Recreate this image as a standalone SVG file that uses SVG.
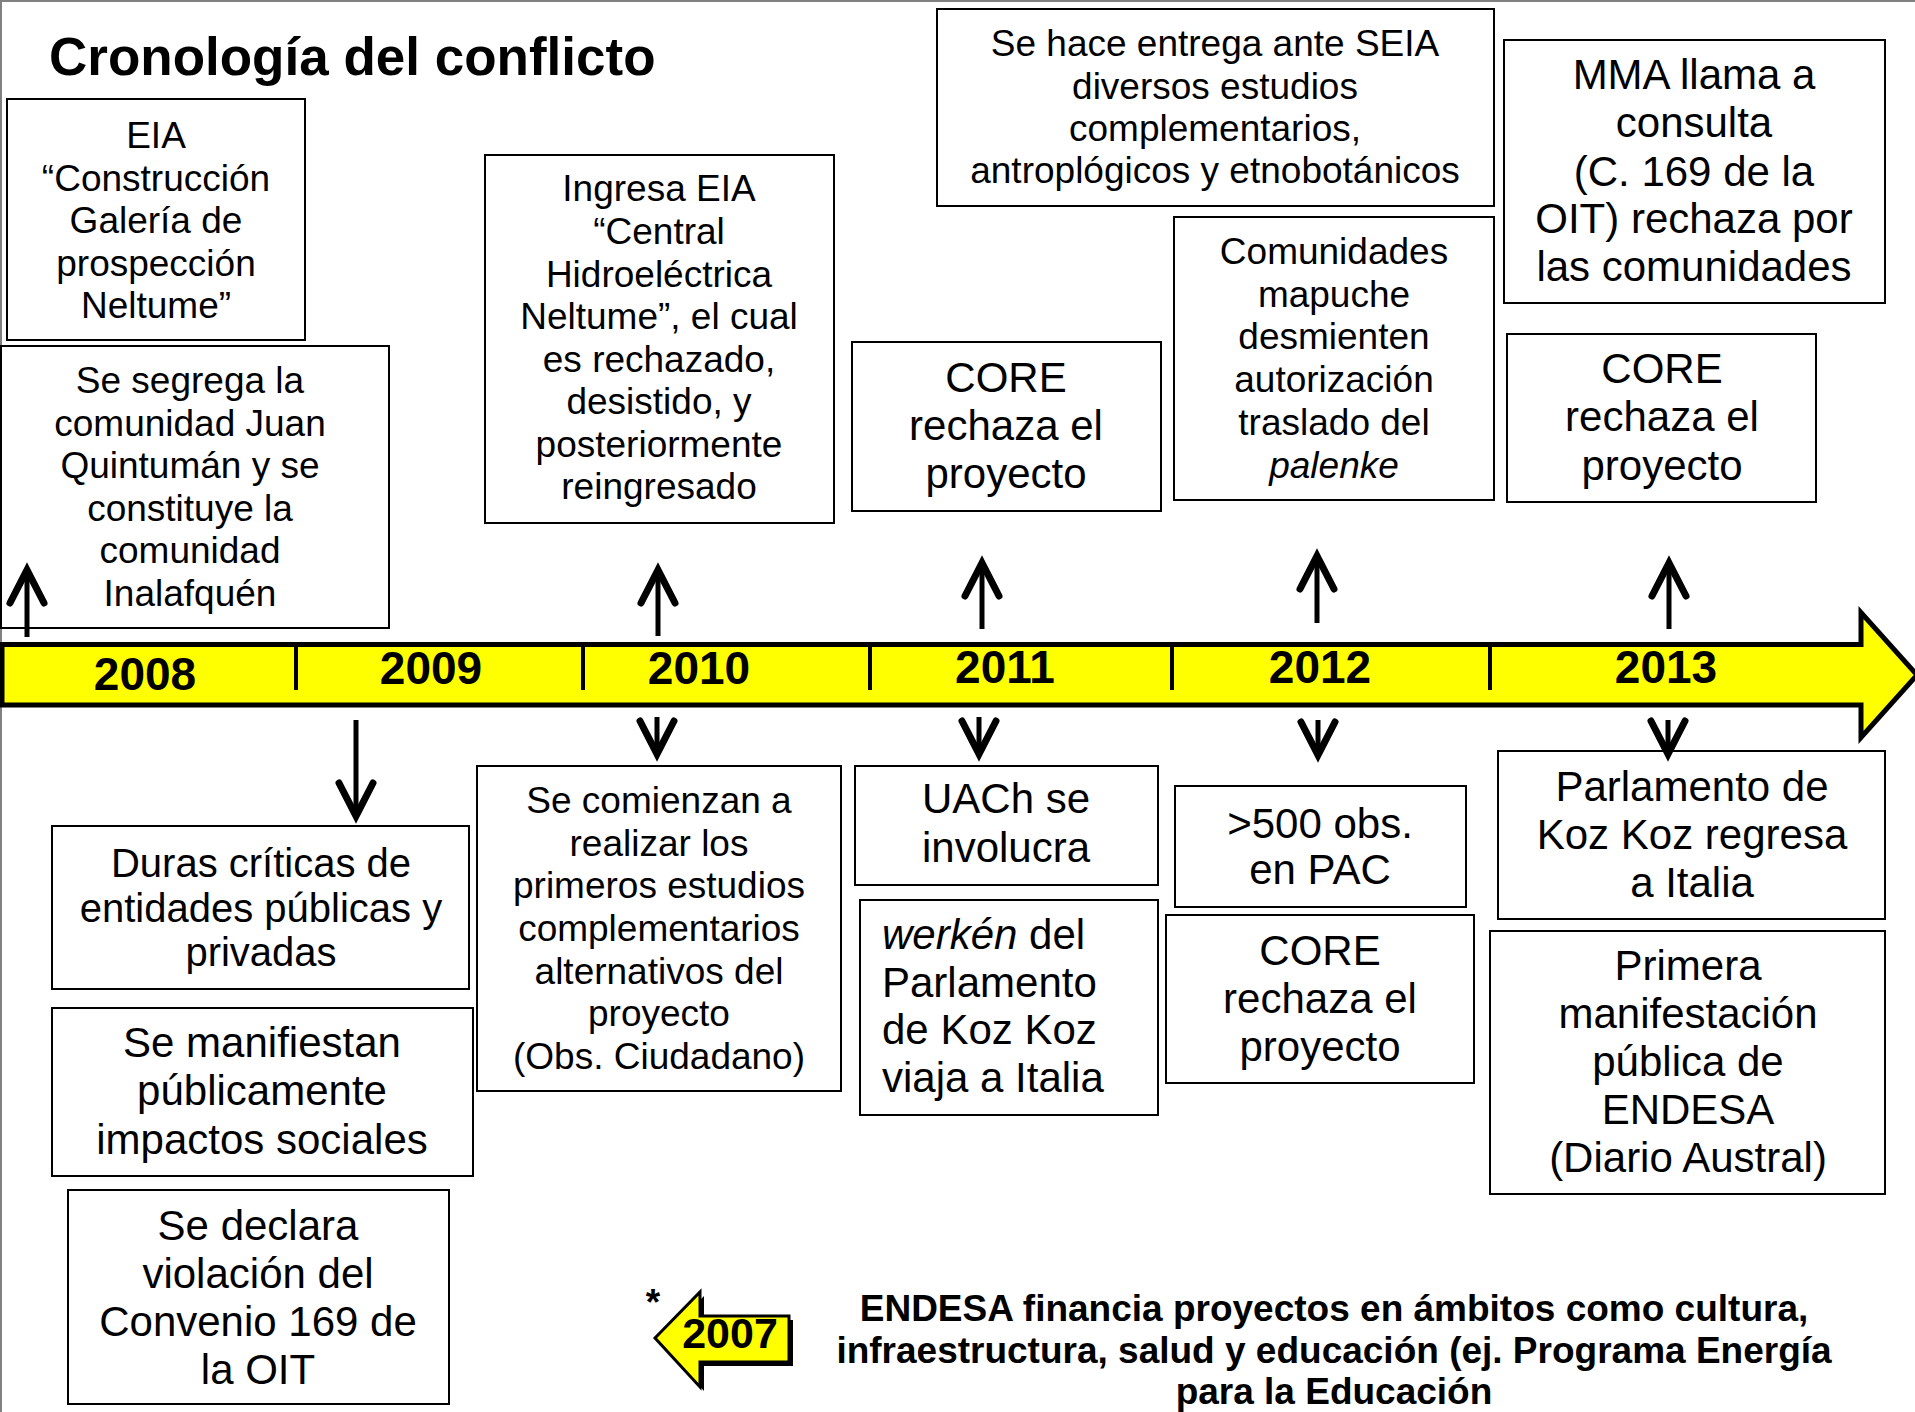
<svg xmlns="http://www.w3.org/2000/svg" width="1915" height="1412" viewBox="0 0 1915 1412">
<style>
.box{fill:#fff;stroke:#000;stroke-width:2}
.t{font-family:"Liberation Sans",Arial,sans-serif;fill:#000;text-anchor:middle}
.s37{font-size:37px}
.s40{font-size:40px}
.s42{font-size:42px}
.b{font-weight:bold}
.shaft{stroke:#000;stroke-width:5;fill:none}
.head{stroke:#000;stroke-width:7;fill:none;stroke-linecap:round;stroke-linejoin:miter;stroke-miterlimit:10}
.tick{stroke:#000;stroke-width:4}
</style>
<rect width="1915" height="1412" fill="#fff"/>
<path d="M1,1412 V1 H1915" fill="none" stroke="#808080" stroke-width="2"/>

<text class="t b" x="49" y="75" font-size="53" style="text-anchor:start">Cronología del conflicto</text>

<g id="timeline">
<path d="M2,644.5 H1861 V612.5 L1917,675 L1861,737.5 V705 H2 Z" fill="#ffff00" stroke="#000" stroke-width="5"/>
<line class="tick" x1="296" y1="646" x2="296" y2="690"/>
<line class="tick" x1="583" y1="646" x2="583" y2="690"/>
<line class="tick" x1="870" y1="646" x2="870" y2="690"/>
<line class="tick" x1="1172" y1="646" x2="1172" y2="690"/>
<line class="tick" x1="1490" y1="646" x2="1490" y2="690"/>
<g class="t b" font-size="46">
<text x="145" y="690">2008</text>
<text x="431" y="684">2009</text>
<text x="699" y="684">2010</text>
<text x="1005" y="683">2011</text>
<text x="1320" y="683">2012</text>
<text x="1666" y="683">2013</text>
</g>
</g>

<g id="n-eia">
<rect class="box" x="7" y="99" width="298" height="241"/>
<text class="t s37"><tspan x="156" y="148">EIA</tspan><tspan x="156" y="191">“Construcción</tspan><tspan x="156" y="233">Galería de</tspan><tspan x="156" y="276">prospección</tspan><tspan x="156" y="318">Neltume”</tspan></text>
</g>

<g id="n-segrega">
<rect class="box" x="1" y="346" width="388" height="282"/>
<text class="t s37"><tspan x="190" y="393">Se segrega la</tspan><tspan x="190" y="436">comunidad Juan</tspan><tspan x="190" y="478">Quintumán y se</tspan><tspan x="190" y="521">constituye la</tspan><tspan x="190" y="563">comunidad</tspan><tspan x="190" y="606">Inalafquén</tspan></text>
</g>

<g id="n-ingresa">
<rect class="box" x="485" y="155" width="349" height="368"/>
<text class="t s37"><tspan x="659" y="201">Ingresa EIA</tspan><tspan x="659" y="244">“Central</tspan><tspan x="659" y="287">Hidroeléctrica</tspan><tspan x="659" y="329">Neltume”, el cual</tspan><tspan x="659" y="372">es rechazado,</tspan><tspan x="659" y="414">desistido, y</tspan><tspan x="659" y="457">posteriormente</tspan><tspan x="659" y="499">reingresado</tspan></text>
</g>

<g id="n-comienzan">
<rect class="box" x="477" y="766" width="364" height="325"/>
<text class="t s37"><tspan x="659" y="813">Se comienzan a</tspan><tspan x="659" y="856">realizar los</tspan><tspan x="659" y="898">primeros estudios</tspan><tspan x="659" y="941">complementarios</tspan><tspan x="659" y="984">alternativos del</tspan><tspan x="659" y="1026">proyecto</tspan><tspan x="659" y="1069">(Obs. Ciudadano)</tspan></text>
</g>

<g id="n-uach">
<rect class="box" x="855" y="766" width="303" height="119"/>
<text class="t s42"><tspan x="1006" y="813">UACh se</tspan><tspan x="1006" y="862">involucra</tspan></text>
</g>

<g id="n-werken">
<rect class="box" x="860" y="900" width="298" height="215"/>
<text class="t s42" style="text-anchor:start"><tspan x="882" y="949"><tspan font-style="italic">werkén</tspan> del</tspan><tspan x="882" y="997">Parlamento</tspan><tspan x="882" y="1044">de Koz Koz</tspan><tspan x="882" y="1092">viaja a Italia</tspan></text>
</g>

<g id="n-core2011">
<rect class="box" x="852" y="342" width="309" height="169"/>
<text class="t s42"><tspan x="1006" y="392">CORE</tspan><tspan x="1006" y="440">rechaza el</tspan><tspan x="1006" y="488">proyecto</tspan></text>
</g>

<g id="n-seia">
<rect class="box" x="937" y="9" width="557" height="197"/>
<text class="t s37"><tspan x="1215" y="56">Se hace entrega ante SEIA</tspan><tspan x="1215" y="99">diversos estudios</tspan><tspan x="1215" y="141">complementarios,</tspan><tspan x="1215" y="183">antroplógicos y etnobotánicos</tspan></text>
</g>

<g id="n-comunidades">
<rect class="box" x="1174" y="217" width="320" height="283"/>
<text class="t s37"><tspan x="1334" y="264">Comunidades</tspan><tspan x="1334" y="307">mapuche</tspan><tspan x="1334" y="349">desmienten</tspan><tspan x="1334" y="392">autorización</tspan><tspan x="1334" y="435">traslado del</tspan><tspan x="1334" y="478" font-style="italic">palenke</tspan></text>
</g>

<g id="n-mma">
<rect class="box" x="1504" y="40" width="381" height="263"/>
<text class="t s42"><tspan x="1694" y="89">MMA llama a</tspan><tspan x="1694" y="137">consulta</tspan><tspan x="1694" y="186">(C. 169 de la</tspan><tspan x="1694" y="233">OIT) rechaza por</tspan><tspan x="1694" y="281">las comunidades</tspan></text>
</g>

<g id="n-core2013">
<rect class="box" x="1507" y="334" width="309" height="168"/>
<text class="t s42"><tspan x="1662" y="383">CORE</tspan><tspan x="1662" y="431">rechaza el</tspan><tspan x="1662" y="480">proyecto</tspan></text>
</g>

<g id="n-pac">
<rect class="box" x="1175" y="786" width="291" height="121"/>
<text class="t s42"><tspan x="1320" y="838">&gt;500 obs.</tspan><tspan x="1320" y="884">en PAC</tspan></text>
</g>

<g id="n-core2012">
<rect class="box" x="1166" y="915" width="308" height="168"/>
<text class="t s42"><tspan x="1320" y="965">CORE</tspan><tspan x="1320" y="1013">rechaza el</tspan><tspan x="1320" y="1061">proyecto</tspan></text>
</g>

<g id="n-parlamento">
<rect class="box" x="1498" y="751" width="387" height="168"/>
<text class="t s42"><tspan x="1692" y="801">Parlamento de</tspan><tspan x="1692" y="849">Koz Koz regresa</tspan><tspan x="1692" y="897">a Italia</tspan></text>
</g>

<g id="n-primera">
<rect class="box" x="1490" y="931" width="395" height="263"/>
<text class="t s42"><tspan x="1688" y="980">Primera</tspan><tspan x="1688" y="1028">manifestación</tspan><tspan x="1688" y="1076">pública de</tspan><tspan x="1688" y="1124">ENDESA</tspan><tspan x="1688" y="1172">(Diario Austral)</tspan></text>
</g>

<g id="n-duras">
<rect class="box" x="52" y="826" width="417" height="163"/>
<text class="t s40"><tspan x="261" y="877">Duras críticas de</tspan><tspan x="261" y="922">entidades públicas y</tspan><tspan x="261" y="966">privadas</tspan></text>
</g>

<g id="n-manifiestan">
<rect class="box" x="52" y="1008" width="421" height="168"/>
<text class="t s42"><tspan x="262" y="1057">Se manifiestan</tspan><tspan x="262" y="1105">públicamente</tspan><tspan x="262" y="1154">impactos sociales</tspan></text>
</g>

<g id="n-declara">
<rect class="box" x="68" y="1190" width="381" height="214"/>
<text class="t s42"><tspan x="258" y="1240">Se declara</tspan><tspan x="258" y="1288">violación del</tspan><tspan x="258" y="1336">Convenio 169 de</tspan><tspan x="258" y="1384">la OIT</tspan></text>
</g>

<g id="n-2007">
<text class="t b s37" x="653" y="1315">*</text>
<path d="M659,1342 L704,1296 V1320 H793 V1366 H704 V1391 Z" fill="#000"/>
<path d="M655,1338 L700,1292 V1316 H789 V1362 H700 V1387 Z" fill="#ffff00" stroke="#000" stroke-width="3" stroke-linejoin="miter"/>
<text class="t b" font-size="43" x="730" y="1348">2007</text>
</g>

<g id="n-endesa">
<text class="t b s37"><tspan x="1334" y="1321">ENDESA financia proyectos en ámbitos como cultura,</tspan><tspan x="1334" y="1363">infraestructura, salud y educación (ej. Programa Energía</tspan><tspan x="1334" y="1404">para la Educación</tspan></text>
</g>

<g id="connectors">
<line class="shaft" x1="27" y1="568" x2="27" y2="637"/>
<path class="head" d="M10,603 L27,570 L44,603"/>
<line class="shaft" x1="658" y1="568" x2="658" y2="636"/>
<path class="head" d="M641,603 L658,570 L675,603"/>
<line class="shaft" x1="982" y1="561" x2="982" y2="629"/>
<path class="head" d="M965,596 L982,563 L999,596"/>
<line class="shaft" x1="1317" y1="554" x2="1317" y2="623"/>
<path class="head" d="M1300,589 L1317,556 L1334,589"/>
<line class="shaft" x1="1669" y1="561" x2="1669" y2="629"/>
<path class="head" d="M1652,596 L1669,563 L1686,596"/>

<line class="shaft" x1="356" y1="720" x2="356" y2="818"/>
<path class="head" d="M339,783 L356,816 L373,783"/>
<line class="shaft" x1="657" y1="717" x2="657" y2="756"/>
<path class="head" d="M640,721 L657,754 L674,721"/>
<line class="shaft" x1="979" y1="717" x2="979" y2="756"/>
<path class="head" d="M962,721 L979,754 L996,721"/>
<line class="shaft" x1="1318" y1="720" x2="1318" y2="757"/>
<path class="head" d="M1301,722 L1318,755 L1335,722"/>
<line class="shaft" x1="1668" y1="720" x2="1668" y2="756"/>
<path class="head" d="M1651,721 L1668,754 L1685,721"/>
</g>
</svg>
